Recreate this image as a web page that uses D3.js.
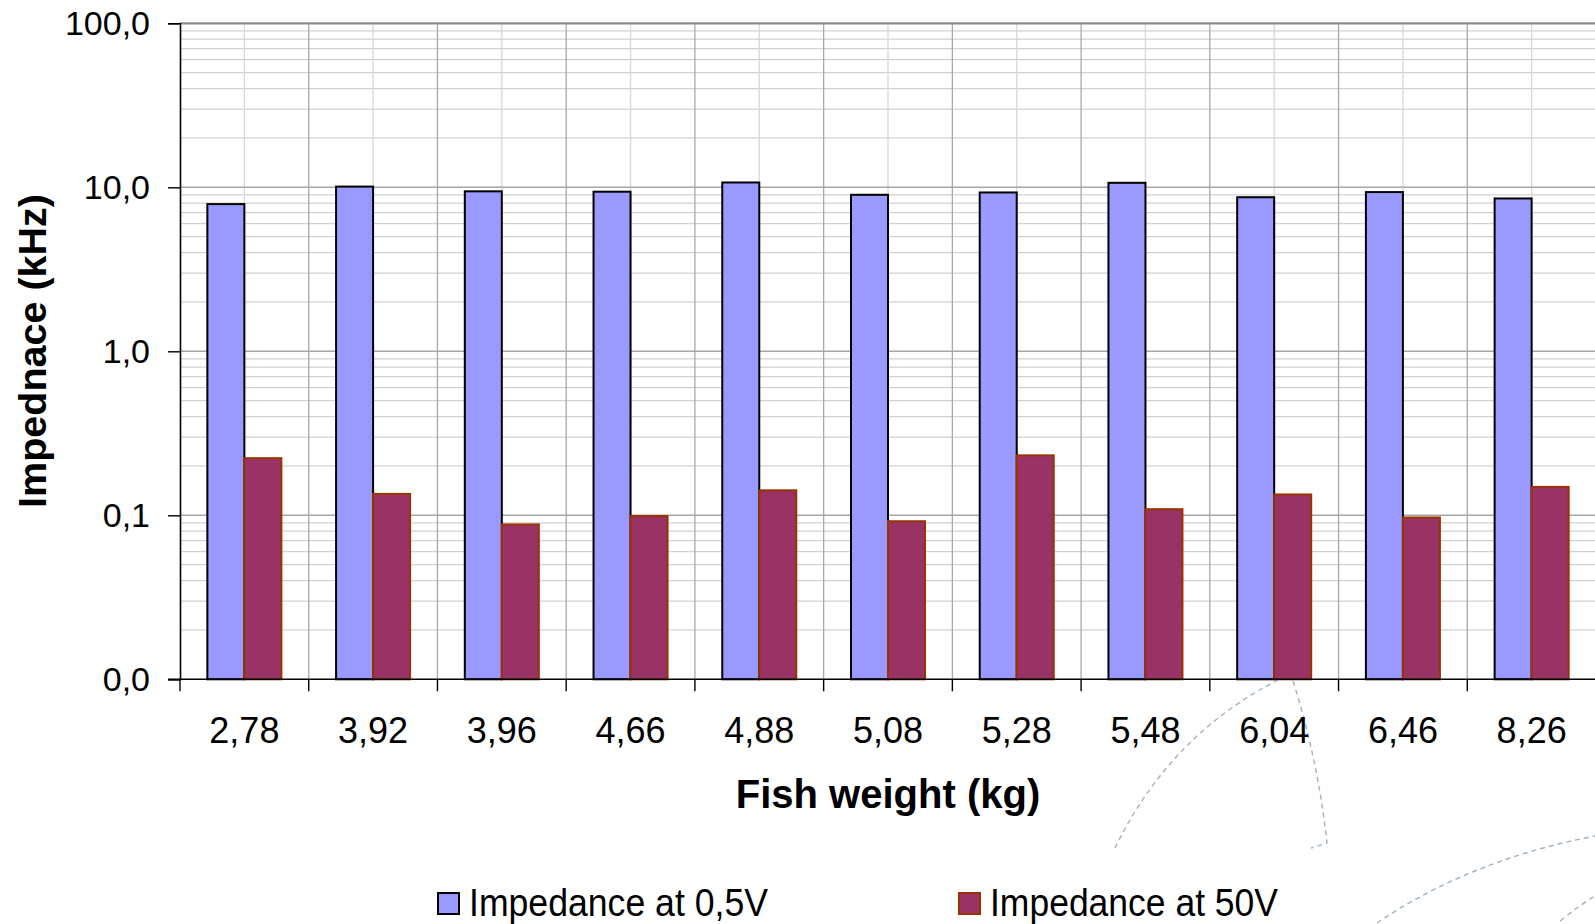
<!DOCTYPE html>
<html><head><meta charset="utf-8">
<script src="https://cdn.jsdelivr.net/npm/d3@7"></script>
<style>html,body{margin:0;padding:0;background:#fff;overflow:hidden}</style>
</head><body>
<svg id="c" width="1595" height="924"></svg>
<script>
const categories = ["2,78","3,92","3,96","4,66","4,88","5,08","5,28","5,48","6,04","6,46","8,26"];
const impedance05V = [7.9, 10.1, 9.45, 9.4, 10.7, 9.0, 9.3, 10.65, 8.7, 9.35, 8.55];
const impedance50V = [0.223, 0.135, 0.088, 0.099, 0.142, 0.092, 0.232, 0.109, 0.134, 0.097, 0.149];
const yTickValues = [0.01, 0.1, 1, 10, 100];
const yTickLabels = ["0,0", "0,1", "1,0", "10,0", "100,0"];
const seriesNames = ["Impedance at 0,5V", "Impedance at 50V"];

const font = "'Liberation Sans', Arial, sans-serif";
const svg = d3.select("#c");
const L = 180, R = 1596, T = 23.3, B = 679.3;
const x = d3.scaleBand().domain(categories).range([L, R]).paddingInner(0).paddingOuter(0);
const y = d3.scaleLog().domain([0.01, 100]).range([B, T]);
const bw = x.bandwidth();
const barW = bw * 0.2875;

// minor horizontal gridlines
const minor = [];
for (let e = -2; e < 2; e++) for (let k = 2; k <= 9; k++) minor.push(k * Math.pow(10, e));
svg.append("g").selectAll("line").data(minor).join("line")
  .attr("x1", L).attr("x2", R).attr("y1", d => y(d)).attr("y2", d => y(d))
  .attr("stroke", "#d2d2d2").attr("stroke-width", 1.3);
// vertical gridlines: centers (light), boundaries (darker)
svg.append("g").selectAll("line").data(categories).join("line")
  .attr("x1", d => x(d) + bw / 2).attr("x2", d => x(d) + bw / 2).attr("y1", T).attr("y2", B)
  .attr("stroke", "#d8d8d8").attr("stroke-width", 1.3);
svg.append("g").selectAll("line").data(categories.slice(1)).join("line")
  .attr("x1", d => x(d)).attr("x2", d => x(d)).attr("y1", T).attr("y2", B)
  .attr("stroke", "#a8a8a8").attr("stroke-width", 1.3);
// major horizontal gridlines
svg.append("g").selectAll("line").data(yTickValues.slice(1)).join("line")
  .attr("x1", L).attr("x2", R).attr("y1", d => y(d)).attr("y2", d => y(d))
  .attr("stroke", d => d === 100 ? "#8c8c8c" : "#a6a6a6").attr("stroke-width", d => d === 100 ? 2.2 : 1.4);

// decorative dashed arcs (background watermark)
const deco = svg.append("g").attr("fill", "none").attr("stroke", "#9fb3c2").attr("stroke-width", 1.4).attr("stroke-dasharray", "5,4");
deco.append("path").attr("d", "M1115,848 Q1170,735 1278,680");
deco.append("path").attr("d", "M1293,681 Q1318,760 1327,843 L1311,848");
deco.append("path").attr("d", "M1377,923 Q1470,860 1595,836");
deco.append("path").attr("d", "M1560,921 Q1580,905 1595,896");

// bars
const g = svg.append("g");
g.selectAll("rect.a").data(categories).join("rect").attr("class", "a")
  .attr("x", d => x(d) + bw / 2 - barW).attr("width", barW)
  .attr("y", (d, i) => y(impedance05V[i])).attr("height", (d, i) => B - y(impedance05V[i]))
  .attr("fill", "#9999ff").attr("stroke", "#000").attr("stroke-width", 2);
g.selectAll("rect.b").data(categories).join("rect").attr("class", "b")
  .attr("x", d => x(d) + bw / 2).attr("width", barW)
  .attr("y", (d, i) => y(impedance50V[i])).attr("height", (d, i) => B - y(impedance50V[i]))
  .attr("fill", "#993366").attr("stroke", "#993300").attr("stroke-width", 2);

// y axis
const yAxis = svg.append("g").attr("transform", `translate(${L},0)`)
  .call(d3.axisLeft(y).tickValues(yTickValues).tickFormat((d, i) => yTickLabels[i]).tickSize(12).tickPadding(18));
yAxis.select(".domain").attr("stroke", "#000").attr("stroke-width", 1.6);
yAxis.selectAll(".tick line").attr("stroke", "#000").attr("stroke-width", 1.4);
yAxis.selectAll(".tick text").attr("font-family", font).attr("font-size", 34).attr("fill", "#000");

// x axis
const xAxis = svg.append("g").attr("transform", `translate(0,${B})`)
  .call(d3.axisBottom(x).tickSize(0).tickPadding(38));
xAxis.select(".domain").remove();
xAxis.selectAll(".tick text").attr("font-family", font).attr("font-size", 36).attr("fill", "#000");
svg.append("line").attr("x1", 168).attr("x2", 1595).attr("y1", B).attr("y2", B).attr("stroke", "#000").attr("stroke-width", 1.6);
svg.append("g").selectAll("line").data(categories).join("line")
  .attr("x1", d => x(d)).attr("x2", d => x(d)).attr("y1", B).attr("y2", B + 12)
  .attr("stroke", "#000").attr("stroke-width", 1.4);

// axis titles
svg.append("text").attr("x", (L + R) / 2).attr("y", 808).attr("text-anchor", "middle")
  .attr("font-family", font).attr("font-weight", "bold").attr("font-size", 40).text("Fish weight (kg)");
svg.append("text").attr("transform", "translate(46,351) rotate(-90)").attr("text-anchor", "middle")
  .attr("font-family", font).attr("font-weight", "bold").attr("font-size", 39.5).text("Impednace (kHz)");

// legend
const legendX = [437, 958];
const legendW = [299, 288];
const legFill = ["#9999ff", "#993366"], legStroke = ["#000", "#993300"];
seriesNames.forEach((s, i) => {
  svg.append("rect").attr("x", legendX[i] + 1).attr("y", 893).attr("width", 21).attr("height", 21)
    .attr("fill", legFill[i]).attr("stroke", legStroke[i]).attr("stroke-width", 2);
  svg.append("text").attr("x", legendX[i] + 32).attr("y", 916)
    .attr("font-family", font).attr("font-size", 38)
    .attr("textLength", legendW[i]).attr("lengthAdjust", "spacingAndGlyphs").text(s);
});
</script>
</body></html>
